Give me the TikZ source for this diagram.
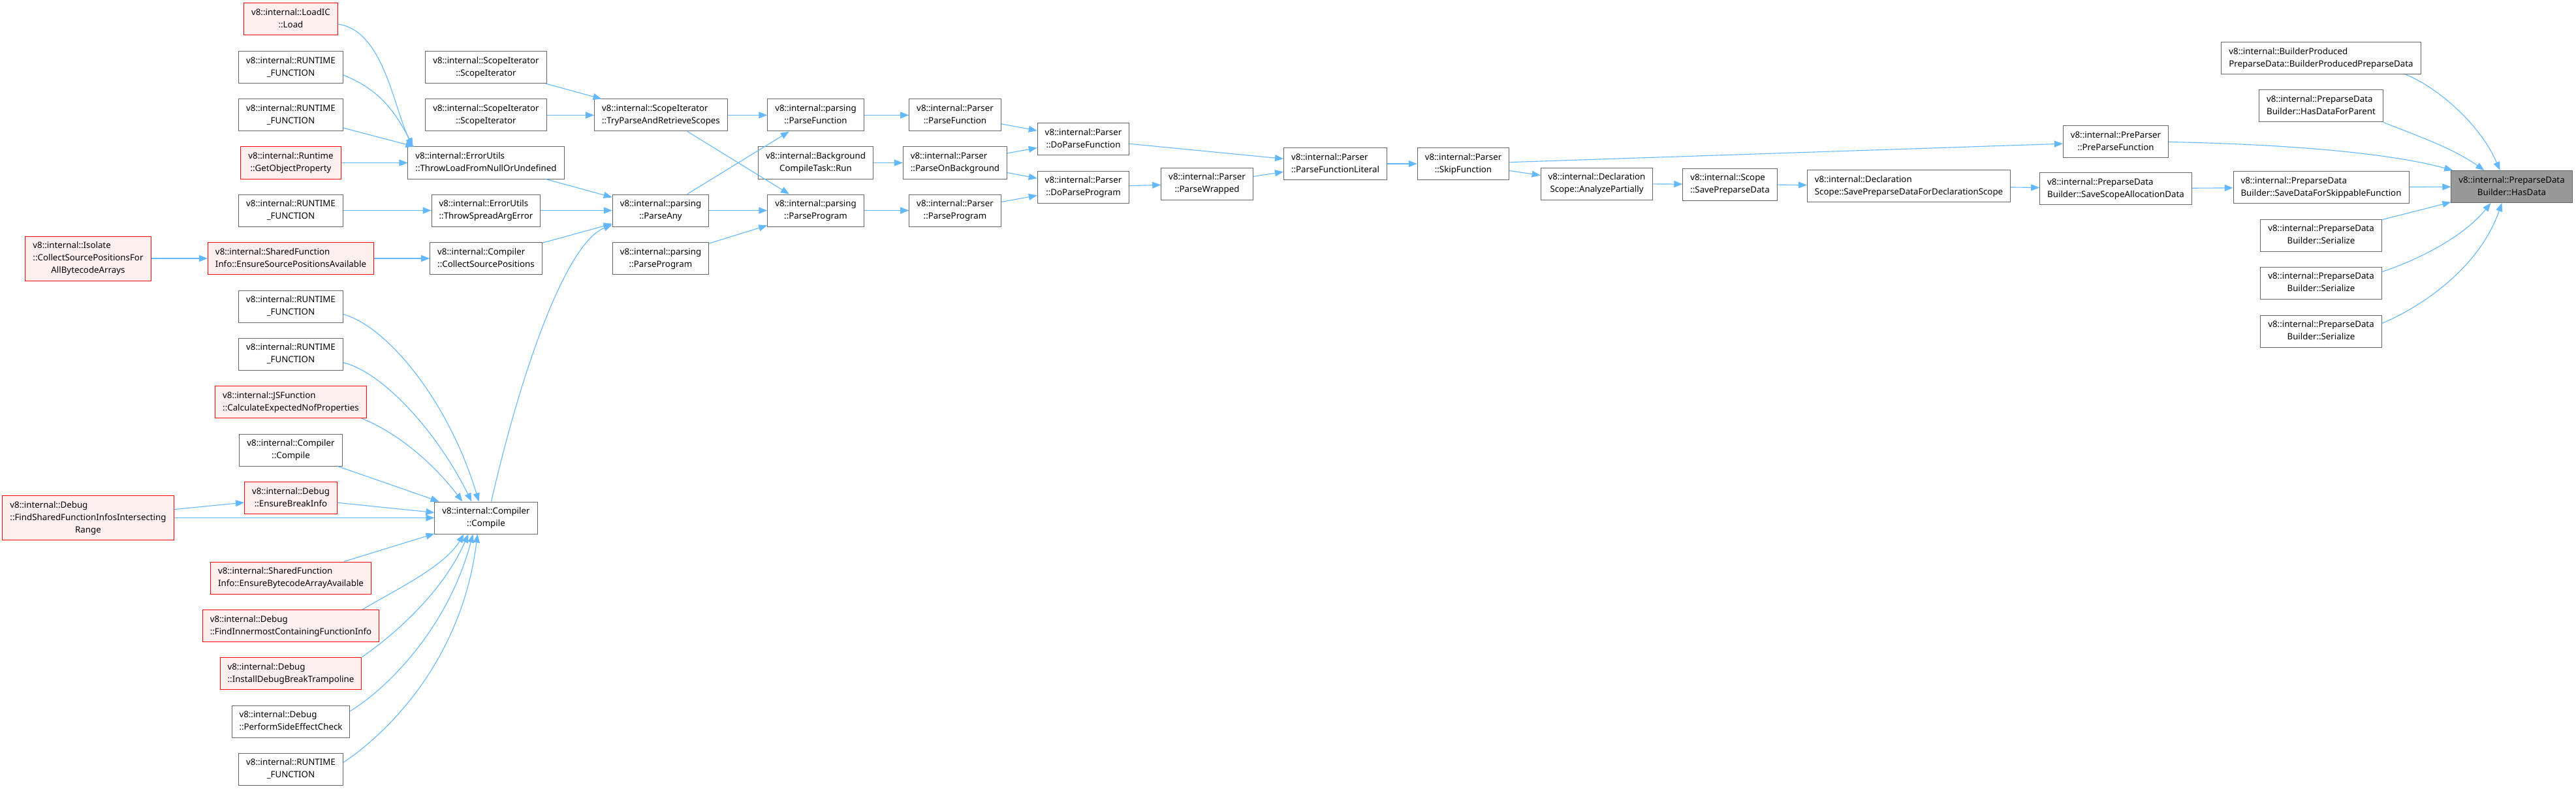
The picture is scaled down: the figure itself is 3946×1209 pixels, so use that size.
\documentclass[tikz,border=0pt]{standalone}
\usepackage{fontspec}
\setmainfont{Noto Sans}
\usepackage{xcolor}
\usepackage{tikz}
\usetikzlibrary{arrows.meta}
\definecolor{edgeblue}{HTML}{63B8FF}
\definecolor{boxgray}{HTML}{666666}
\definecolor{redfill}{HTML}{FFF0F0}
\definecolor{focusgray}{HTML}{999999}
\newcommand{\fnlbl}[2]{\begin{tabular}{@{}l@{}}#1\\\multicolumn{1}{@{}c@{}}{#2}\end{tabular}}

\begin{document}
\begin{tikzpicture}[x=1pt, y=1pt,
    box/.style={rectangle, draw=boxgray, fill=white, line width=1pt, inner xsep=11.5pt, inner ysep=5.5pt, font=\fontsize{13.3}{19}\selectfont},
    redbox/.style={box, draw=red, fill=redfill},
    focusbox/.style={box, fill=focusgray},
    arr/.style={-{Triangle[length=13pt, width=10pt]}, draw=edgeblue, line width=1.1pt}]
    \fill[white] (0,0) rectangle (3946,-1209);
    \useasboundingbox (0,0) rectangle (3946,-1209);
    \node[redbox] (isoCSP) at (135,-396) {\fnlbl{v8::internal::Isolate\\::CollectSourcePositionsFor}{AllBytecodeArrays}};
    \node[redbox] (dbgFSFI) at (135,-793.5) {\fnlbl{v8::internal::Debug\\::FindSharedFunctionInfosIntersecting}{Range}};
    \node[redbox] (loadIC) at (445.5,-29.5) {\fnlbl{v8::internal::LoadIC}{::Load}};
    \node[box] (rfA) at (445.5,-103) {\fnlbl{v8::internal::RUNTIME}{\_FUNCTION}};
    \node[box] (rfB) at (445.5,-176.5) {\fnlbl{v8::internal::RUNTIME}{\_FUNCTION}};
    \node[redbox] (getObjProp) at (445.5,-249.5) {\fnlbl{v8::internal::Runtime}{::GetObjectProperty}};
    \node[box] (rfC) at (445.5,-322.5) {\fnlbl{v8::internal::RUNTIME}{\_FUNCTION}};
    \node[redbox] (sfiESPA) at (445.5,-396) {\fnlbl{v8::internal::SharedFunction}{Info::EnsureSourcePositionsAvailable}};
    \node[box] (rfD) at (445.5,-469.5) {\fnlbl{v8::internal::RUNTIME}{\_FUNCTION}};
    \node[box] (rfE) at (445.5,-542.5) {\fnlbl{v8::internal::RUNTIME}{\_FUNCTION}};
    \node[redbox] (jsfCENP) at (445.5,-616) {\fnlbl{v8::internal::JSFunction}{::CalculateExpectedNofProperties}};
    \node[box] (ccCompileA) at (445.5,-689.5) {\fnlbl{v8::internal::Compiler}{::Compile}};
    \node[redbox] (dbgEBI) at (445.5,-763) {\fnlbl{v8::internal::Debug}{::EnsureBreakInfo}};
    \node[redbox] (sfiEBAA) at (445.5,-885.5) {\fnlbl{v8::internal::SharedFunction}{Info::EnsureBytecodeArrayAvailable}};
    \node[redbox] (dbgFICFI) at (445.5,-959) {\fnlbl{v8::internal::Debug}{::FindInnermostContainingFunctionInfo}};
    \node[redbox] (dbgIDBT) at (445.5,-1032) {\fnlbl{v8::internal::Debug}{::InstallDebugBreakTrampoline}};
    \node[box] (dbgPSEC) at (445.5,-1105.5) {\fnlbl{v8::internal::Debug}{::PerformSideEffectCheck}};
    \node[box] (rfF) at (445.5,-1178.5) {\fnlbl{v8::internal::RUNTIME}{\_FUNCTION}};
    \node[box] (scopeItA) at (744.5,-103) {\fnlbl{v8::internal::ScopeIterator}{::ScopeIterator}};
    \node[box] (scopeItB) at (744.5,-176.5) {\fnlbl{v8::internal::ScopeIterator}{::ScopeIterator}};
    \node[box] (euTLFNOU) at (744.5,-249.5) {\fnlbl{v8::internal::ErrorUtils}{::ThrowLoadFromNullOrUndefined}};
    \node[box] (euTSAE) at (744.5,-322.5) {\fnlbl{v8::internal::ErrorUtils}{::ThrowSpreadArgError}};
    \node[box] (ccCSP) at (744.5,-396) {\fnlbl{v8::internal::Compiler}{::CollectSourcePositions}};
    \node[box] (ccCompile) at (744.5,-793.5) {\fnlbl{v8::internal::Compiler}{::Compile}};
    \node[box] (siTPARS) at (1012.5,-176.5) {\fnlbl{v8::internal::ScopeIterator}{::TryParseAndRetrieveScopes}};
    \node[box] (parseAny) at (1012,-322.5) {\fnlbl{v8::internal::parsing}{::ParseAny}};
    \node[box] (parseProgramA) at (1012,-396) {\fnlbl{v8::internal::parsing}{::ParseProgram}};
    \node[box] (parseFunction) at (1249.5,-176.5) {\fnlbl{v8::internal::parsing}{::ParseFunction}};
    \node[box] (bgctRun) at (1249.5,-249.5) {\fnlbl{v8::internal::Background}{CompileTask::Run}};
    \node[box] (parseProgram) at (1249.5,-322.5) {\fnlbl{v8::internal::parsing}{::ParseProgram}};
    \node[box] (parserPF) at (1463,-176.5) {\fnlbl{v8::internal::Parser}{::ParseFunction}};
    \node[box] (parserPOB) at (1463,-249.5) {\fnlbl{v8::internal::Parser}{::ParseOnBackground}};
    \node[box] (parserPP) at (1463,-322.5) {\fnlbl{v8::internal::Parser}{::ParseProgram}};
    \node[box] (doParseFunction) at (1659.5,-213.5) {\fnlbl{v8::internal::Parser}{::DoParseFunction}};
    \node[box] (doParseProgram) at (1659.5,-286.5) {\fnlbl{v8::internal::Parser}{::DoParseProgram}};
    \node[box] (parseWrapped) at (1849,-281.5) {\fnlbl{v8::internal::Parser}{::ParseWrapped}};
    \node[box] (parseFnLiteral) at (2045.5,-251) {\fnlbl{v8::internal::Parser}{::ParseFunctionLiteral}};
    \node[box] (skipFunction) at (2241.5,-251) {\fnlbl{v8::internal::Parser}{::SkipFunction}};
    \node[box] (analyzePartially) at (2446,-281.5) {\fnlbl{v8::internal::Declaration}{Scope::AnalyzePartially}};
    \node[box] (savePreparseData) at (2650,-282.5) {\fnlbl{v8::internal::Scope}{::SavePreparseData}};
    \node[box] (savePDFDS) at (2924,-285) {\fnlbl{v8::internal::Declaration}{Scope::SavePreparseDataForDeclarationScope}};
    \node[box] (preParseFunction) at (3241,-217.5) {\fnlbl{v8::internal::PreParser}{::PreParseFunction}};
    \node[box] (saveScopeAlloc) at (3241,-289) {\fnlbl{v8::internal::PreparseData}{Builder::SaveScopeAllocationData}};
    \node[box] (builderProduced) at (3555.5,-89) {\fnlbl{v8::internal::BuilderProduced}{PreparseData::BuilderProducedPreparseData}};
    \node[box] (hasDataForParent) at (3555.5,-162.5) {\fnlbl{v8::internal::PreparseData}{Builder::HasDataForParent}};
    \node[box] (saveDataSkippable) at (3555.5,-287) {\fnlbl{v8::internal::PreparseData}{Builder::SaveDataForSkippableFunction}};
    \node[box] (serializeA) at (3555.5,-360.5) {\fnlbl{v8::internal::PreparseData}{Builder::Serialize}};
    \node[box] (serializeB) at (3555.5,-433.5) {\fnlbl{v8::internal::PreparseData}{Builder::Serialize}};
    \node[box] (serializeC) at (3555.5,-507.5) {\fnlbl{v8::internal::PreparseData}{Builder::Serialize}};
    \node[focusbox] (hasData) at (3847.5,-286) {\fnlbl{v8::internal::PreparseData}{Builder::HasData}};
    \draw[arr] ([yshift=-7.5pt]loadIC.east) .. controls +(70,-10) and +(-30,60) .. ([xshift=8pt]euTLFNOU.north west);
    \draw[arr] ([yshift=-12pt]rfA.east) .. controls +(50,-20) and +(-30,60) .. ([xshift=8pt]euTLFNOU.north west);
    \draw[arr] ([yshift=-19.5pt]rfB.east) -- ([xshift=10pt]euTLFNOU.north west);
    \draw[arr] (getObjProp) -- (euTLFNOU);
    \draw[arr] (rfC) -- (euTSAE);
    \draw[arr] (isoCSP) -- (sfiESPA);
    \draw[arr] (sfiESPA) -- (ccCSP);
    \draw[arr] (scopeItA) -- (siTPARS);
    \draw[arr] (scopeItB) -- (siTPARS);
    \draw[arr] (euTLFNOU) -- (parseAny);
    \draw[arr] (euTSAE) -- (parseAny);
    \draw[arr] (ccCSP) -- (parseAny);
    \draw[arr] ([xshift=8pt]ccCompile.north) .. controls +(48,209) and +(-69,-27) .. ([yshift=3pt]parseAny.south west);
    \draw[arr] ([yshift=-12pt]rfD.east) .. controls +(70,-20) and +(-45,150) .. ([xshift=-11pt]ccCompile.north);
    \draw[arr] ([yshift=-13pt]rfE.east) .. controls +(60,-15) and +(-55,110) .. ([xshift=-22pt]ccCompile.north);
    \draw[arr] ([xshift=-8pt]jsfCENP.south east) .. controls +(50,-20) and +(-50,65) .. ([xshift=-36pt]ccCompile.north);
    \draw[arr] (ccCompileA) -- (ccCompile);
    \draw[arr] (dbgEBI) -- (ccCompile);
    \draw[arr] (dbgFSFI) -- (dbgEBI);
    \draw[arr] (dbgFSFI) -- (ccCompile);
    \draw[arr] (sfiEBAA) -- (ccCompile);
    \draw[arr] ([xshift=-26pt]dbgFICFI.north east) .. controls +(50,30) and +(-30,-50) .. ([xshift=-34pt]ccCompile.south);
    \draw[arr] (dbgIDBT.north east) .. controls +(50,35) and +(-40,-90) .. ([xshift=-27pt]ccCompile.south);
    \draw[arr] ([yshift=16pt]dbgPSEC.east) .. controls +(50,30) and +(-40,-150) .. ([xshift=-20pt]ccCompile.south);
    \draw[arr] ([yshift=10pt]rfF.east) .. controls +(60,40) and +(-25,-200) .. ([xshift=-13pt]ccCompile.south);
    \draw[arr] (siTPARS) -- (parseFunction);
    \draw[arr] (siTPARS) -- (parseProgram);
    \draw[arr] (parseAny) -- (parseFunction);
    \draw[arr] (parseAny) -- (parseProgram);
    \draw[arr] (parseProgramA) -- (parseProgram);
    \draw[arr] (parseFunction) -- (parserPF);
    \draw[arr] (bgctRun) -- (parserPOB);
    \draw[arr] (parseProgram) -- (parserPP);
    \draw[arr] (parserPF) -- (doParseFunction);
    \draw[arr] (parserPOB) -- (doParseFunction);
    \draw[arr] (parserPOB) -- (doParseProgram);
    \draw[arr] (parserPP) -- (doParseProgram);
    \draw[arr] (doParseFunction) -- (parseFnLiteral);
    \draw[arr] (doParseProgram) -- (parseWrapped);
    \draw[arr] (parseWrapped) -- (parseFnLiteral);
    \draw[arr] (parseFnLiteral) -- (skipFunction);
    \draw[arr] (skipFunction) -- (preParseFunction);
    \draw[arr] (skipFunction) -- (analyzePartially);
    \draw[arr] (analyzePartially) -- (savePreparseData);
    \draw[arr] (savePreparseData) -- (savePDFDS);
    \draw[arr] (savePDFDS) -- (saveScopeAlloc);
    \draw[arr] (saveScopeAlloc) -- (saveDataSkippable);
    \draw[arr] (saveDataSkippable) -- (hasData);
    \draw[arr] (preParseFunction.east) .. controls +(150,-3) and +(-110,30) .. ([xshift=3pt]hasData.north west);
    \draw[arr] ([xshift=-24pt]builderProduced.south east) .. controls +(50,-20) and +(-30,70) .. ([xshift=-18pt]hasData.north);
    \draw[arr] (hasDataForParent.south east) .. controls +(50,-20) and +(-50,35) .. ([xshift=-42pt]hasData.north);
    \draw[arr] (serializeA) -- (hasData);
    \draw[arr] ([yshift=17pt]serializeB.east) .. controls +(60,20) and +(-40,-50) .. ([xshift=-32pt]hasData.south);
    \draw[arr] ([yshift=12pt]serializeC.east) .. controls +(60,25) and +(-35,-100) .. ([xshift=-15pt]hasData.south);
  \end{tikzpicture}
\end{document}
